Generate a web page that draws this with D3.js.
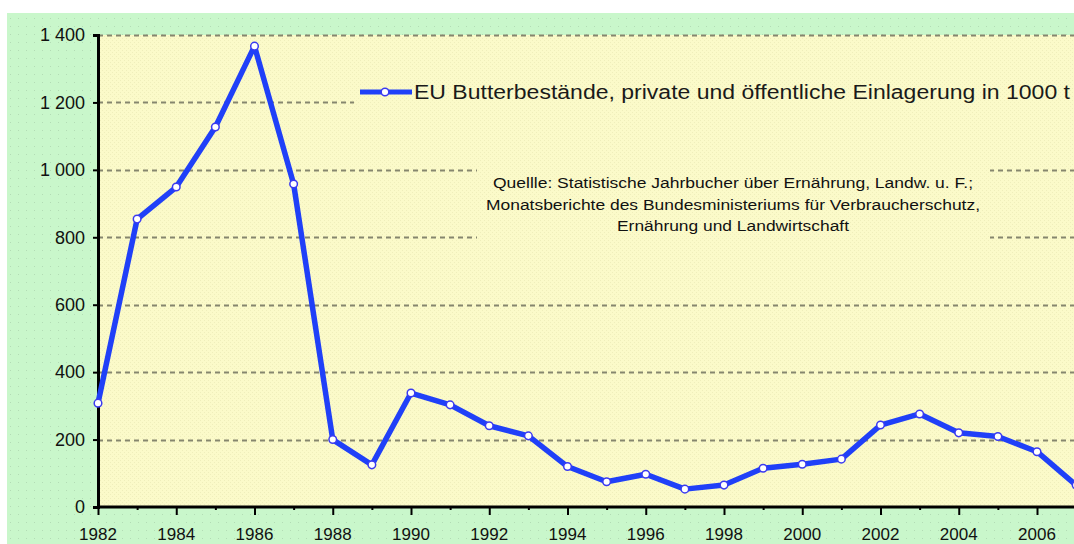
<!DOCTYPE html>
<html>
<head>
<meta charset="utf-8">
<script src="https://cdn.jsdelivr.net/npm/d3@7/dist/d3.min.js"></script>
<style>
  body { margin: 0; background: #fff; }
  svg { display: block; font-family: "Liberation Sans", Arial, sans-serif; }
</style>
</head>
<body>
<svg id="chart" width="1074" height="544"></svg>
<script>
// EU butter stocks, 1000 t
const years = [1982, 1983, 1984, 1985, 1986, 1987, 1988, 1989, 1990, 1991, 1992, 1993, 1994,
               1995, 1996, 1997, 1998, 1999, 2000, 2001, 2002, 2003, 2004, 2005, 2006, 2007];
const stocks = [308, 854, 949, 1127, 1367, 958, 200, 125, 338, 303, 241, 211, 120,
                75, 97, 53, 65, 115, 127, 142, 243, 276, 220, 209, 164, 65];
const yTicks = [0, 200, 400, 600, 800, 1000, 1200, 1400];
const xLabels = [1982, 1984, 1986, 1988, 1990, 1992, 1994, 1996, 1998, 2000, 2002, 2004, 2006];
const legendLabel = "EU Butterbestände, private und öffentliche Einlagerung in 1000 t";
const sourceLines = [
  "Quellle: Statistische Jahrbucher über Ernährung, Landw. u. F.;",
  "Monatsberichte des Bundesministeriums für Verbraucherschutz,",
  "Ernährung und Landwirtschaft"
];

const svg = d3.select("#chart");
const W = 1074, H = 544;
const plot = { left: 98, top: 35, right: 1074, bottom: 507 };

const x = d3.scaleLinear().domain([1982, 2006]).range([98, 1037]);
const y = d3.scaleLinear().domain([0, 1400]).range([plot.bottom, plot.top]);

// textures
const defs = svg.append("defs");
const dots = defs.append("pattern").attr("id", "dots").attr("patternUnits", "userSpaceOnUse")
  .attr("width", 8).attr("height", 8);
dots.append("rect").attr("width", 8).attr("height", 8).attr("fill", "#c9f7cb");
dots.append("rect").attr("x", 2).attr("y", 2).attr("width", 1).attr("height", 1).attr("fill", "#b3dcb5");
const hatch = defs.append("pattern").attr("id", "hatch").attr("patternUnits", "userSpaceOnUse")
  .attr("width", 4).attr("height", 4);
hatch.append("rect").attr("width", 4).attr("height", 4).attr("fill", "#fbfac9");
hatch.append("rect").attr("x", 0).attr("y", 0).attr("width", 1).attr("height", 1).attr("fill", "#efeebb");
hatch.append("rect").attr("x", 2).attr("y", 2).attr("width", 1).attr("height", 1).attr("fill", "#efeebb");

svg.append("rect").attr("x", 7).attr("y", 13).attr("width", W - 7).attr("height", H - 13)
  .attr("fill", "url(#dots)");
svg.append("rect").attr("x", plot.left).attr("y", plot.top)
  .attr("width", plot.right - plot.left).attr("height", plot.bottom - plot.top)
  .attr("fill", "url(#hatch)");

// gridlines
svg.append("g").selectAll("line").data(yTicks.filter(d => d > 0)).join("line")
  .attr("x1", plot.left).attr("x2", plot.right)
  .attr("y1", d => Math.round(y(d)) + 0.5).attr("y2", d => Math.round(y(d)) + 0.5)
  .attr("stroke", "#86866e").attr("stroke-width", 1.8).attr("stroke-dasharray", "5,4");

// boxes that hide gridlines behind legend and source note
svg.append("rect").attr("x", 354).attr("y", 74).attr("width", plot.right - 354).attr("height", 36)
  .attr("fill", "url(#hatch)");
svg.append("rect").attr("x", 477).attr("y", 150).attr("width", 513).attr("height", 95)
  .attr("fill", "url(#hatch)");

// axes
const yAxis = svg.append("g").attr("transform", `translate(${plot.left},0)`)
  .call(d3.axisLeft(y).tickValues(yTicks).tickSize(5).tickPadding(8)
    .tickFormat(d => d3.format(",")(d).replace(",", " ")));
yAxis.select(".domain").attr("stroke", "#000").attr("stroke-width", 3);
yAxis.selectAll(".tick line").attr("stroke", "#000").attr("stroke-width", 2);
yAxis.selectAll("text").attr("font-size", 18).attr("fill", "#111");

const xAxis = svg.append("g").attr("transform", `translate(0,${plot.bottom})`)
  .call(d3.axisBottom(x).tickValues(years).tickSize(0).tickFormat(""));
xAxis.select(".domain").attr("d", `M${plot.left},0H${plot.right}`)
  .attr("stroke", "#000").attr("stroke-width", 3);
xAxis.selectAll(".tick line").attr("y2", d => xLabels.includes(d) ? 8 : 3)
  .attr("stroke", "#000").attr("stroke-width", 2);
svg.append("g").selectAll("text").data(xLabels).join("text")
  .attr("x", d => x(d)).attr("y", 540).attr("text-anchor", "middle")
  .attr("font-size", 17).attr("fill", "#111").text(d => d);

// series
const line = d3.line().x((d, i) => x(years[i])).y(d => y(d));
svg.append("path").datum(stocks).attr("d", line)
  .attr("fill", "none").attr("stroke", "#2040f8").attr("stroke-width", 5.5)
  .attr("stroke-linejoin", "round");
svg.append("g").selectAll("circle").data(stocks).join("circle")
  .attr("cx", (d, i) => x(years[i])).attr("cy", d => y(d)).attr("r", 3.8)
  .attr("fill", "#fff").attr("stroke", "#3a3af0").attr("stroke-width", 1.5);

// legend
const lg = svg.append("g");
lg.append("line").attr("x1", 360).attr("x2", 412).attr("y1", 92).attr("y2", 92)
  .attr("stroke", "#2040f8").attr("stroke-width", 5);
lg.append("circle").attr("cx", 385).attr("cy", 92).attr("r", 3.8)
  .attr("fill", "#fff").attr("stroke", "#3a3af0").attr("stroke-width", 1.5);
lg.append("text").attr("x", 414).attr("y", 99).attr("font-size", 20).attr("fill", "#1a1a1a")
  .attr("textLength", 656).attr("lengthAdjust", "spacingAndGlyphs").text(legendLabel);

// source note
svg.append("g").selectAll("text").data(sourceLines).join("text")
  .attr("x", 733).attr("y", (d, i) => 188 + i * 21.5).attr("text-anchor", "middle")
  .attr("font-size", 14).attr("fill", "#111")
  .attr("textLength", (d, i) => [480, 494, 232][i]).attr("lengthAdjust", "spacingAndGlyphs")
  .text(d => d);
</script>
</body>
</html>
